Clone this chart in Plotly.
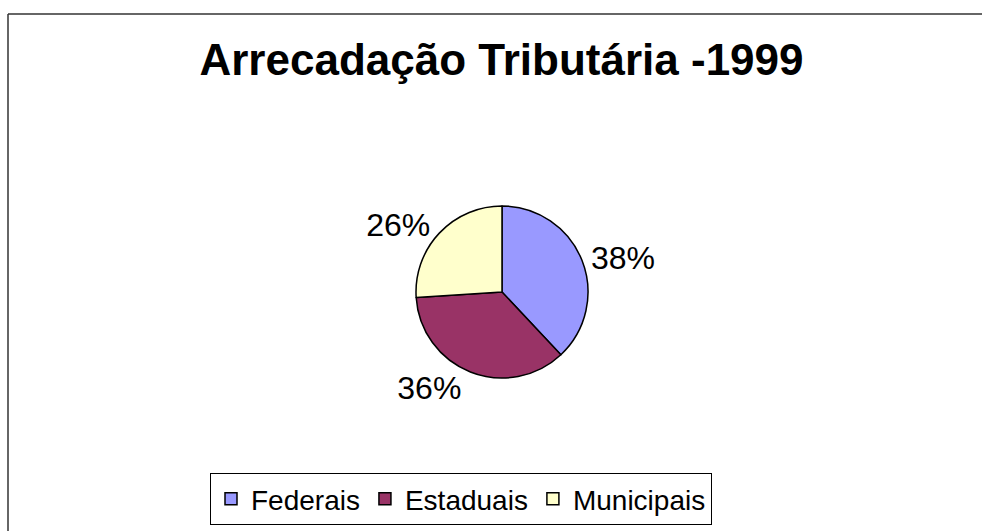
import plotly.graph_objects as go

categories = ["Federais", "Estaduais", "Municipais"]
values = [38, 36, 26]
colors = ["#9999FF", "#993366", "#FFFFCC"]
title_text = "Arrecadação Tributária -1999"

W, H = 982, 531

fig = go.Figure()
fig.add_trace(go.Pie(
    labels=categories,
    values=values,
    sort=False,
    direction="clockwise",
    rotation=0,
    marker=dict(colors=colors, line=dict(color="black", width=1.5)),
    textinfo="percent",
    texttemplate="%{percent:.0%}",
    textposition="outside",
    textfont=dict(family="Liberation Sans, Arial, sans-serif", size=32, color="black"),
    domain=dict(x=[416 / W, 588 / W], y=[(H - 378) / H, (H - 206) / H]),
    hoverinfo="label+percent",
))

border = dict(color="#333333", width=1.5)
fig.update_layout(
    width=W, height=H,
    margin=dict(l=0, r=0, t=0, b=0),
    paper_bgcolor="white",
    plot_bgcolor="white",
    title=dict(
        text="<b>" + title_text + "</b>",
        font=dict(family="Liberation Sans, Arial, sans-serif", size=44, color="black"),
        x=501.5 / W, xanchor="center",
        y=(H - 60) / H, yanchor="middle",
    ),
    legend=dict(
        orientation="h",
        x=461 / W, xanchor="center",
        y=(H - 473) / H, yanchor="top",
        bordercolor="black", borderwidth=1,
        font=dict(family="Liberation Sans, Arial, sans-serif", size=28, color="black"),
        bgcolor="white",
        traceorder="normal",
    ),
    shapes=[
        dict(type="line", xref="paper", yref="paper",
             x0=8 / W, x1=8 / W, y0=0, y1=(H - 14) / H, line=border, layer="below"),
        dict(type="line", xref="paper", yref="paper",
             x0=8 / W, x1=1, y0=(H - 14) / H, y1=(H - 14) / H, line=border, layer="below"),
    ],
)

fig.write_html(
    "out.html",
    config={"displayModeBar": False},
    post_script="document.body.style.margin='0';document.body.style.overflow='hidden';",
)
